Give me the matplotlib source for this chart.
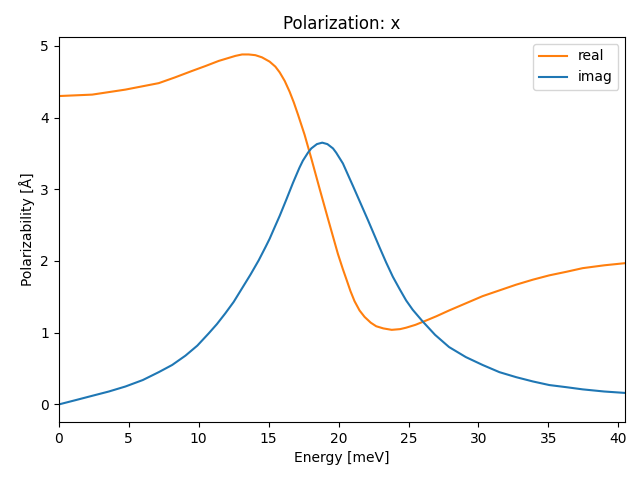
import numpy as np
import matplotlib
matplotlib.use("Agg")
import matplotlib.pyplot as plt

# values
energy_real = [0, 2.38, 4.76, 7.14, 8.3, 9.52, 10.5, 11.43, 12.62, 13.1, 13.57, 14.05,
               14.52, 15.07, 15.48, 15.79, 16.15, 16.5, 16.8, 17.1, 17.57, 18.05,
               18.64, 19.24, 19.95, 20.3, 20.55, 20.85, 21.14, 21.5, 21.86, 22.3,
               22.69, 23.2, 23.8, 24.4, 24.83, 25.5, 26.26, 27.0, 27.9, 29.1, 30.3,
               31.5, 32.7, 33.9, 35.07, 36.3, 37.45, 39.0, 40.5]
alpha_real = [4.30, 4.32, 4.39, 4.48, 4.56, 4.65, 4.72, 4.79, 4.86, 4.88, 4.88, 4.87,
              4.84, 4.78, 4.71, 4.63, 4.51, 4.36, 4.21, 4.04, 3.76, 3.43,
              3.01, 2.59, 2.10, 1.89, 1.75, 1.58, 1.44, 1.31, 1.22, 1.14,
              1.09, 1.06, 1.04, 1.05, 1.07, 1.11, 1.17, 1.23, 1.31, 1.41, 1.51,
              1.59, 1.67, 1.74, 1.80, 1.85, 1.90, 1.94, 1.97]

energy_imag = [0, 1.2, 2.38, 3.57, 4.76, 6.0, 7.14, 8.1, 9.05, 9.9, 10.71, 11.3, 11.9,
               12.5, 13.1, 13.7, 14.29, 14.79, 15.07, 15.36, 15.79, 16.02, 16.25,
               16.74, 16.98, 17.2, 17.45, 17.81, 18.05, 18.45, 18.83, 19.2, 19.6,
               19.83, 20.31, 20.79, 21.02, 21.38, 21.74, 22.1, 22.45, 22.93, 23.4,
               23.88, 24.36, 24.83, 25.3, 26.0, 26.9, 27.9, 29.1, 30.3, 31.5, 32.7,
               33.9, 35.07, 36.3, 37.45, 39.0, 40.5]
alpha_imag = [0.0, 0.06, 0.12, 0.18, 0.25, 0.34, 0.45, 0.55, 0.68, 0.82, 0.99, 1.12, 1.27,
              1.43, 1.62, 1.81, 2.01, 2.20, 2.31, 2.44, 2.63, 2.74, 2.85,
              3.09, 3.20, 3.30, 3.40, 3.51, 3.57, 3.63, 3.65, 3.63, 3.57,
              3.51, 3.36, 3.15, 3.05, 2.89, 2.73, 2.57, 2.41, 2.19, 1.98,
              1.78, 1.61, 1.45, 1.32, 1.16, 0.97, 0.80, 0.66, 0.55, 0.45, 0.38,
              0.32, 0.27, 0.24, 0.21, 0.18, 0.16]

plt.figure(figsize=(6.4, 4.8), dpi=100)
plt.plot(energy_real, alpha_real, color="C1", label="real")
plt.plot(energy_imag, alpha_imag, color="C0", label="imag")
plt.xlim(0, max(energy_real[-1], energy_imag[-1]))
plt.xlabel("Energy [meV]")
plt.ylabel("Polarizability [Å]")
plt.title("Polarization: x")
plt.legend()
plt.subplots_adjust(left=0.092, right=0.977, top=0.923, bottom=0.121)
plt.savefig("out.png")
